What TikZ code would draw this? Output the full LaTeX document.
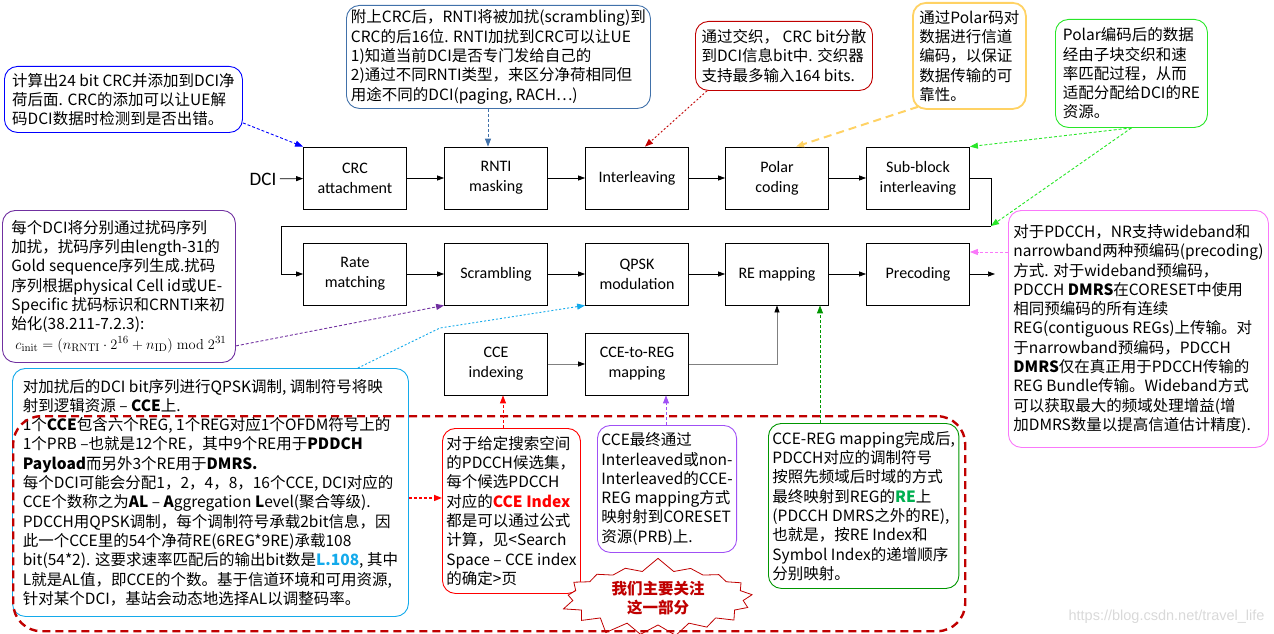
\documentclass[tikz,border=0pt]{standalone}
\usepackage[no-math]{fontspec}
\setmainfont{Noto Sans CJK SC}
\newfontfamily\blkfont{Carlito}
\newfontfamily\wmfont{Liberation Sans}
\usetikzlibrary{arrows.meta, calc, shapes.symbols}
\definecolor{crcblue}{RGB}{0,0,255}
\definecolor{rntiblue}{RGB}{65,113,170}
\definecolor{intlred}{RGB}{192,0,0}
\definecolor{polargold}{RGB}{255,210,100}
\definecolor{subgreen}{RGB}{40,230,40}
\definecolor{scrpurple}{RGB}{112,48,160}
\definecolor{qpskcyan}{RGB}{20,170,235}
\definecolor{precpink}{RGB}{250,120,250}
\definecolor{idxred}{RGB}{255,0,0}
\definecolor{ctorviolet}{RGB}{160,80,245}
\definecolor{remgreen}{RGB}{0,150,0}
\definecolor{regreen}{RGB}{0,176,80}
\definecolor{focusred}{RGB}{192,0,0}
\newcommand{\calloutfont}{\fontsize{15.5}{19.3}\selectfont}

\begin{document}
\begin{tikzpicture}[x=1pt, y=-1pt,
  blk/.style={draw, line width=0.8pt, fill=white, minimum width=103pt, minimum height=62pt,
    inner sep=2pt, align=center, font=\blkfont\fontsize{16}{20}\selectfont},
  note/.style={draw, line width=0.9pt, rounded corners=13pt, fill=white, anchor=north west,
    align=left, inner sep=4pt, font=\calloutfont},
  wire/.style={line width=0.7pt, -{Triangle[length=7pt,width=5pt,color=black]}},
  hint/.style={line width=0.9pt, densely dashed, -{Triangle[length=8pt,width=6pt]}}]
  \useasboundingbox (0,0) rectangle (1274,634);

  % Chain, first row
  \node[font=\blkfont\fontsize{19}{22}\selectfont] (dci) at (263,179) {DCI};
  \node[blk] (crc) at (355,178) {CRC\\attachment};
  \node[blk] (rnti) at (496,178) {RNTI\\masking};
  \node[blk] (intl) at (637,178) {Interleaving};
  \node[blk] (polar) at (777,178) {Polar\\coding};
  \node[blk] (subblk) at (918,178) {Sub-block\\interleaving};

  % Chain, second row
  \node[blk] (ratem) at (355,274) {Rate\\matching};
  \node[blk] (scram) at (496,274) {Scrambling};
  \node[blk] (qpsk) at (637,274) {QPSK\\modulation};
  \node[blk] (remap) at (777,274) {RE mapping};
  \node[blk] (precod) at (918,274) {Precoding};

  % CCE branch
  \node[blk] (cceidx) at (496,364) {CCE\\indexing};
  \node[blk] (ccereg) at (637,364) {CCE-to-REG\\mapping};

  \coordinate (turn) at (991,226);
  \coordinate (out) at (995,274);

  % Wires
  \draw[wire] (dci) -- (crc);
  \draw[wire] (crc) -- (rnti);
  \draw[wire] (rnti) -- (intl);
  \draw[wire] (intl) -- (polar);
  \draw[wire] (polar) -- (subblk);
  \draw[line width=0.7pt] (subblk.east) -| (turn);
  \draw[wire] (turn) -| ($(ratem.west)+(-22,0)$) -- (ratem.west);
  \draw[wire] (ratem) -- (scram);
  \draw[wire] (scram) -- (qpsk);
  \draw[wire] (qpsk) -- (remap);
  \draw[wire] (remap) -- (precod);
  \draw[wire] (precod) -- (out);
  \draw[wire, gray] (cceidx) -- (ccereg);
  \draw[wire, gray] (ccereg.east) -| (remap.south);

  % Callouts
  \node[note, draw=crcblue, minimum width=238pt, minimum height=66pt] (crcnote) at (4,66)
    {计算出24 bit CRC并添加到DCI净\\荷后面. CRC的添加可以让UE解\\码DCI数据时检测到是否出错。};
  \node[note, draw=rntiblue, minimum width=304pt, minimum height=103pt] (rntinote) at (346,5)
    {附上CRC后，RNTI将被加扰(scrambling)到\\CRC的后16位. RNTI加扰到CRC可以让UE\\1)知道当前DCI是否专门发给自己的\\2)通过不同RNTI类型，来区分净荷相同但\\用途不同的DCI(paging, RACH…)};
  \node[note, draw=intlred, minimum width=177pt, minimum height=69pt] (intlnote) at (695,21)
    {通过交织， CRC bit分散\\到DCI信息bit中. 交织器\\支持最多输入164 bits.};
  \node[note, draw=polargold, line width=1.8pt, minimum width=113pt, minimum height=106pt] (polarnote) at (912,2)
    {通过Polar码对\\数据进行信道\\编码，以保证\\数据传输的可\\靠性。};
  \node[note, draw=subgreen, minimum width=152pt, minimum height=108pt] (subnote) at (1055,19)
    {Polar编码后的数据\\经由子块交织和速\\率匹配过程，从而\\适配分配给DCI的RE\\资源。};
  \node[note, draw=scrpurple, minimum width=233pt, minimum height=152pt] (scrnote) at (2,210)
    {每个DCI将分别通过扰码序列\\加扰，扰码序列由length-31的\\Gold sequence序列生成.扰码\\序列根据physical Cell id或UE-\\Specific 扰码标识和CRNTI来初\\始化(38.211-7.2.3):\\
     \hspace*{4pt}$c_{\mathrm{init}} = \bigl(n_{\mathrm{RNTI}}\cdot 2^{16}+n_{\mathrm{ID}}\bigr)\bmod 2^{31}$};
  \node[note, draw=qpskcyan, minimum width=396pt, minimum height=248pt] (qpsknote) at (12,368)
    {对加扰后的DCI bit序列进行QPSK调制, 调制符号将映\\
     射到逻辑资源 – \textbf{CCE}上.\\
     1个\textbf{CCE}包含六个REG, 1个REG对应1个OFDM符号上的\\
     1个PRB –也就是12个RE，其中9个RE用于\textbf{PDDCH}\\
     \textbf{Payload}而另外3个RE用于\textbf{DMRS.}\\
     每个DCI可能会分配1，2，4，8，16个CCE, DCI对应的\\
     CCE个数称之为\textbf{AL} – \textbf{A}ggregation \textbf{L}evel(聚合等级).\\
     PDCCH用QPSK调制，每个调制符号承载2bit信息，因\\
     此一个CCE里的54个净荷RE(6REG*9RE)承载108\\
     bit(54*2). 这要求速率匹配后的输出bit数是\textcolor{qpskcyan}{\textbf{L.108}}, 其中\\
     L就是AL值，即CCE的个数。基于信道环境和可用资源,\\
     针对某个DCI，基站会动态地选择AL以调整码率。};
  \node[note, draw=precpink, minimum width=260pt, minimum height=237pt] (precnote) at (1008,210)
    {对于PDCCH，NR支持wideband和\\narrowband两种预编码(precoding)\\方式. 对于wideband预编码，\\PDCCH \textbf{DMRS}在CORESET中使用\\相同预编码的所有连续\\REG(contiguous REGs)上传输。对\\于narrowband预编码，PDCCH\\\textbf{DMRS}仅在真正用于PDCCH传输的\\REG Bundle传输。Wideband方式\\可以获取最大的频域处理增益(增\\加DMRS数量以提高信道估计精度).};
  \node[note, draw=idxred, minimum width=137pt, minimum height=165pt] (idxnote) at (442,428)
    {对于给定搜索空间\\的PDCCH候选集，\\每个候选PDCCH\\对应的\textcolor{idxred}{\textbf{CCE Index}}\\都是可以通过公式\\计算，见<Search\\Space – CCE index\\的确定>页};
  \node[note, draw=ctorviolet, minimum width=138pt, minimum height=127pt] (regnote) at (597,425)
    {CCE最终通过\\Interleaved或non-\\Interleaved的CCE-\\REG mapping方式\\映射射到CORESET\\资源(PRB)上.};
  \node[note, draw=remgreen, minimum width=187pt, minimum height=165pt] (remnote) at (768,423)
    {CCE-REG mapping完成后,\\PDCCH对应的调制符号\\按照先频域后时域的方式\\最终映射到REG的\textcolor{regreen}{\textbf{RE}}上\\(PDCCH DMRS之外的RE),\\也就是，按RE Index和\\Symbol Index的递增顺序\\分别映射。};

  % Focus tag and region
  \node[starburst, draw=focusred, fill=white, line width=0.8pt, starburst points=17,
    starburst point height=14pt, random starburst=7, inner xsep=14pt, inner ysep=2pt,
    align=center, text=focusred, font=\calloutfont\bfseries] (focustag) at (658,598)
    {我们主要关注\\这一部分};
  \node[draw=focusred, line width=2.4pt, dash pattern=on 8pt off 5pt, rounded corners=28pt,
    anchor=north west, minimum width=952pt, minimum height=215pt] (focus) at (12,415) {};

  % Callout pointers
  \coordinate (rntitip) at ($(rnti.north)+(-8,0)$);
  \coordinate (prectip) at ($(precod.east)+(0,-22)$);
  \coordinate (idxtip) at ($(cceidx.south)+(7,0)$);
  \coordinate (regtip) at ($(ccereg.south)+(29,0)$);
  \coordinate (remtip) at ($(remap.south)+(43,0)$);
  \coordinate (idxin) at ($(idxnote.west)+(0,-13)$);
  \draw[hint, crcblue] ($(crcnote.south east)+(0,-10)$) -- (crc.north west);
  \draw[hint, rntiblue] (rntinote.south -| rntitip) -- (rntitip);
  \draw[hint, intlred, dash pattern=on 2pt off 2pt] ($(intlnote.south west)+(12,0)$) -- ($(intl.north)+(8,0)$);
  \draw[hint, polargold, line width=2pt, dash pattern=on 8pt off 5pt] ($(polarnote.south west)+(6,-3)$) -- ($(polar.north)+(19,0)$);
  \draw[hint, subgreen] (subnote.south) -- (subblk.north east);
  \draw[hint, subgreen] (subnote.south) -- (turn);
  \draw[hint, scrpurple] ($(scrnote.south east)+(0,-17)$) -- (scram.south west);
  \draw[hint, qpskcyan, dash pattern=on 2pt off 2pt] ($(qpsknote.north east)+(-51,0)$) -- ++(82,-40) -- (qpsk.south west);
  \draw[hint, precpink] (precnote.west |- prectip) -- (prectip);
  \draw[hint, idxred] (idxnote.north -| idxtip) -- (idxtip);
  \draw[hint, ctorviolet] (regnote.north -| regtip) -- (regtip);
  \draw[hint, remgreen] (remnote.north -| remtip) -- (remtip);
  \draw[hint, idxred, line width=1.4pt] (qpsknote.east |- idxin) -- (idxin);

  \node[font=\wmfont\fontsize{14.5}{16}\selectfont, text=gray!30, anchor=east] (wmark) at (1268,617)
    {https://blog.csdn.net/travel\_life};
\end{tikzpicture}
\end{document}
